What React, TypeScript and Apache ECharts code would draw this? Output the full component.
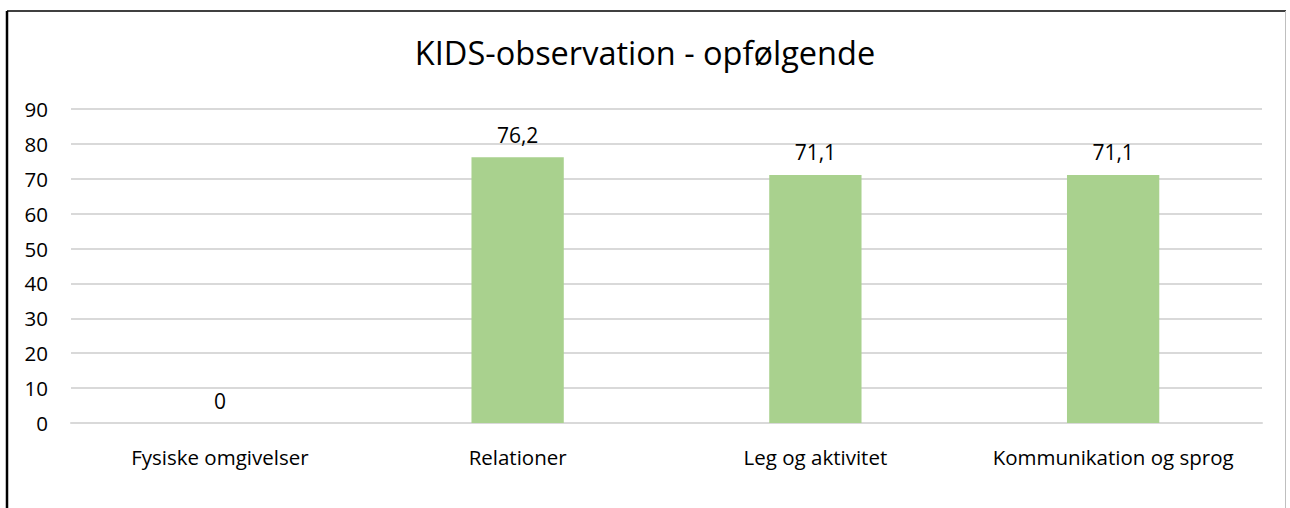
import React, { useEffect, useRef } from "react";
import * as echarts from "echarts";

const categories = ["Fysiske omgivelser", "Relationer", "Leg og aktivitet", "Kommunikation og sprog"];
const values = [0, 76.2, 71.1, 71.1];
const titleText = "KIDS-observation - opfølgende";

export default function App() {
  const ref = useRef<HTMLDivElement>(null);
  useEffect(() => {
    const chart = echarts.init(ref.current!, null, { renderer: "svg" });
    const font = "'Open Sans', sans-serif";
    chart.setOption({
      animation: false,
      backgroundColor: "#ffffff",
      title: {
        text: titleText,
        left: "center",
        top: 31,
        textStyle: { fontFamily: font, fontSize: 32.5, fontWeight: "normal", color: "#000000" },
      },
      graphic: [
        { type: "line", shape: { x1: 7, y1: 11, x2: 1286, y2: 11 }, style: { stroke: "#000", lineWidth: 1.5 } },
        { type: "line", shape: { x1: 7, y1: 11, x2: 7, y2: 520 }, style: { stroke: "#000", lineWidth: 2.5 } },
        { type: "line", shape: { x1: 1285.5, y1: 11, x2: 1285.5, y2: 520 }, style: { stroke: "#BFBFBF", lineWidth: 1 } },
      ],
      grid: { left: 71, right: 28, top: 109, bottom: 85, containLabel: false },
      xAxis: {
        type: "category",
        data: categories,
        axisLine: { show: true, lineStyle: { color: "#D9D9D9", width: 2 } },
        axisTick: { show: false },
        axisLabel: { color: "#000", fontFamily: font, fontSize: 20.5, margin: 23, interval: 0, hideOverlap: false },
      },
      yAxis: {
        type: "value",
        min: 0,
        max: 90,
        interval: 10,
        axisLine: { show: false },
        axisTick: { show: false },
        splitLine: { lineStyle: { color: "#D9D9D9", width: 2 } },
        axisLabel: { color: "#000", fontFamily: font, fontSize: 20.5, margin: 23 },
      },
      series: [
        {
          type: "bar",
          data: values,
          barWidth: "31%",
          itemStyle: { color: "#A9D18E" },
          label: {
            show: true,
            position: "top",
            distance: 12,
            color: "#000",
            fontFamily: font,
            fontSize: 21,
            formatter: (p: any) => String(p.value).replace(".", ","),
          },
        },
      ],
    });
    return () => chart.dispose();
  }, []);
  return <div ref={ref} style={{ width: 1290, height: 508, position: "absolute", left: 0, top: 0 }} />;
}
